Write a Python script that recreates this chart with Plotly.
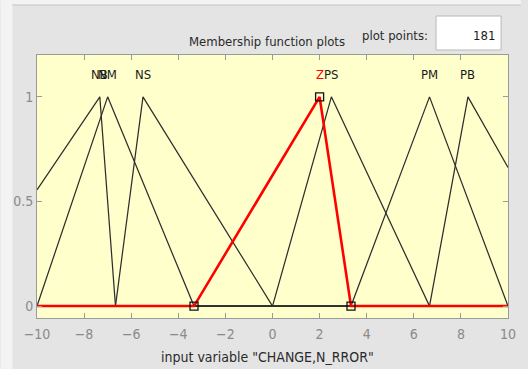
import plotly.graph_objects as go

# Membership functions of the input variable (triangular: a, b, c)
mf_names = ["NB", "NM", "NS", "Z", "PS", "PM", "PB"]
mf_a = [-13.333, -10.0, -6.667, -3.333, 0.0, 3.333, 6.667]
mf_b = [-7.333, -7.0, -5.5, 2.0, 2.5, 6.667, 8.3]
mf_c = [-6.667, -3.333, 0.0, 3.333, 6.667, 10.0, 13.333]
selected = "Z"

x_range = [-10, 10]
x_ticks = [-10, -8, -6, -4, -2, 0, 2, 4, 6, 8, 10]
y_ticks = [0, 0.5, 1]
plot_points = 181
var_label = 'input variable "CHANGE,N_RROR"'

FONT = "DejaVu Sans Condensed, Liberation Sans Narrow, Liberation Sans, Arial, sans-serif"
LINE_C = "#2e2e2e"


def trimf(x, a, b, c):
    if x <= a or x >= c:
        return 0.0
    if x <= b:
        return (x - a) / (b - a) if b > a else 1.0
    return (c - x) / (c - b) if c > b else 1.0


def outline(a, b, c):
    lo, hi = x_range
    xs = [lo] + [v for v in (a, b, c) if lo < v < hi] + [hi]
    return xs, [trimf(v, a, b, c) for v in xs]


fig = go.Figure()

order = [i for i, n in enumerate(mf_names) if n != selected] + \
        [i for i, n in enumerate(mf_names) if n == selected]
for i in order:
    xs, ys = outline(mf_a[i], mf_b[i], mf_c[i])
    sel = mf_names[i] == selected
    fig.add_trace(go.Scatter(
        x=xs, y=ys, mode="lines",
        line=dict(color="#ff0000" if sel else LINE_C, width=2.6 if sel else 1.25),
        showlegend=False, hoverinfo="skip"))

# square handles on the selected function's vertices
k = mf_names.index(selected)
fig.add_trace(go.Scatter(
    x=[mf_a[k], mf_b[k], mf_c[k]], y=[0, 1, 0], mode="markers",
    marker=dict(symbol="square-open", size=8, color="#111111", line=dict(width=1.3)),
    showlegend=False, hoverinfo="skip"))

# labels above each peak
for i, n in enumerate(mf_names):
    fig.add_annotation(
        x=mf_b[i], y=1.105, text=n, showarrow=False, xanchor="center", yanchor="middle",
        font=dict(family=FONT, size=13, color="#ff0000" if n == selected else "#1a1a1a"))

L, R, T, B = 37, 13, 55, 51
W, H = 528, 369
pw, ph = W - L - R, H - T - B


def px(x):
    return (x - L) / pw


def py(y):
    return (H - B - y) / ph


def label(xp, yp, text, anchor="center", color="#2a2a2a", size=13):
    fig.add_annotation(xref="paper", yref="paper", x=px(xp), y=py(yp), text=text,
                       xanchor=anchor, yanchor="middle", showarrow=False,
                       font=dict(family=FONT, size=size, color=color))


# window chrome: light outer strips, panel top rule, header texts, point-count box
fig.add_shape(type="rect", xref="paper", yref="paper", x0=px(0), x1=px(12), y0=py(W), y1=py(0),
              fillcolor="#f3f3f3", line_width=0, layer="below")
fig.add_shape(type="rect", xref="paper", yref="paper", x0=px(0), x1=px(W), y0=py(5), y1=py(0),
              fillcolor="#f3f3f3", line_width=0, layer="below")
fig.add_shape(type="line", xref="paper", yref="paper", x0=px(12), x1=px(W), y0=py(5), y1=py(5),
              line=dict(color="#c4c4c4", width=1.2))
fig.add_shape(type="rect", xref="paper", yref="paper", x0=px(442), x1=px(508), y0=py(50), y1=py(16),
              fillcolor="#ffffff", line=dict(color="#b8b8b8", width=1))
label(270, 42, "Membership function plots")
label(400, 35, "plot points:")
label(504, 36, str(plot_points), anchor="right", color="#1a1a1a")
label(271, 357, var_label, size=14)

axis_common = dict(showgrid=False, zeroline=False, showline=True, linecolor="#9a9a9a",
                   linewidth=1, mirror="ticks", ticks="inside", ticklen=5, tickcolor="#9a9a9a",
                   tickfont=dict(family=FONT, size=14, color="#8a8a8a"))

fig.update_layout(
    width=W, height=H,
    margin=dict(l=L, r=R, t=T, b=B),
    paper_bgcolor="#e4e4e4",
    plot_bgcolor="#ffffcc",
    xaxis=dict(range=x_range, tickvals=x_ticks, ticklabelstandoff=3, **axis_common),
    yaxis=dict(range=[-0.057, 1.2], tickvals=y_ticks, ticktext=["0", "0.5", "1"], **axis_common),
)

fig.write_html("out.html")
